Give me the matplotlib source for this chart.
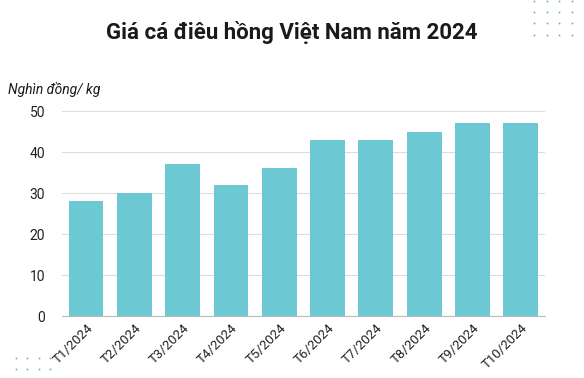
import numpy as np
import matplotlib.pyplot as plt

months = ['T1/2024', 'T2/2024', 'T3/2024', 'T4/2024', 'T5/2024',
          'T6/2024', 'T7/2024', 'T8/2024', 'T9/2024', 'T10/2024']
prices = [28, 30, 37, 32, 36, 43, 43, 45, 47, 47]
yticks = [0, 10, 20, 30, 40, 50]

plt.rcParams['font.family'] = ['Roboto', 'DejaVu Sans']

fig = plt.figure(figsize=(5.84, 3.78), dpi=100)
ax = fig.add_axes([0.106, 0.164, 0.827, 0.542])

x = np.arange(len(months))
ax.bar(x, prices, width=0.72, color='#6cc8d3', zorder=3)
ax.set_xlim(-0.5, len(months) - 0.5)
ax.set_ylim(0, 50)
ax.set_yticks(yticks)
ax.set_xticks(x)
ax.set_xticklabels(months, rotation=45, ha='right', rotation_mode='anchor', fontsize=9.5)
ax.tick_params(axis='y', labelsize=10, length=0, pad=12, colors='#222222')
ax.tick_params(axis='x', length=0, pad=4, colors='#222222')
ax.grid(axis='y', color='#dddddd', linewidth=0.8, zorder=0)
for s in ['top', 'right', 'left']:
    ax.spines[s].set_visible(False)
ax.spines['bottom'].set_color('#bbbbbb')

fig.text(0.5, 0.915, 'Giá cá điêu hồng Việt Nam năm 2024', ha='center', va='center',
         fontsize=16, fontweight='bold', color='#1a1a1a')
fig.text(0.014, 0.762, 'Nghìn đồng/ kg', ha='left', va='center',
         fontsize=10, style='italic', color='#1a1a1a')

# decorative dots
deco = fig.add_axes([0, 0, 1, 1], zorder=-1)
deco.axis('off')
deco.set_xlim(0, 1)
deco.set_ylim(0, 1)
dx, dy = np.meshgrid([0.914, 0.937, 0.957, 0.979], [0.998, 0.968, 0.939, 0.907])
deco.scatter(dx.ravel(), dy.ravel(), s=2, color='#7fb5b8', linewidths=0)
bx, by = np.meshgrid([0.028, 0.047, 0.066, 0.085], [0.053, 0.024])
deco.scatter(bx.ravel(), by.ravel(), s=2, color='#7fb5b8', linewidths=0)

fig.savefig('out.png', dpi=100)
